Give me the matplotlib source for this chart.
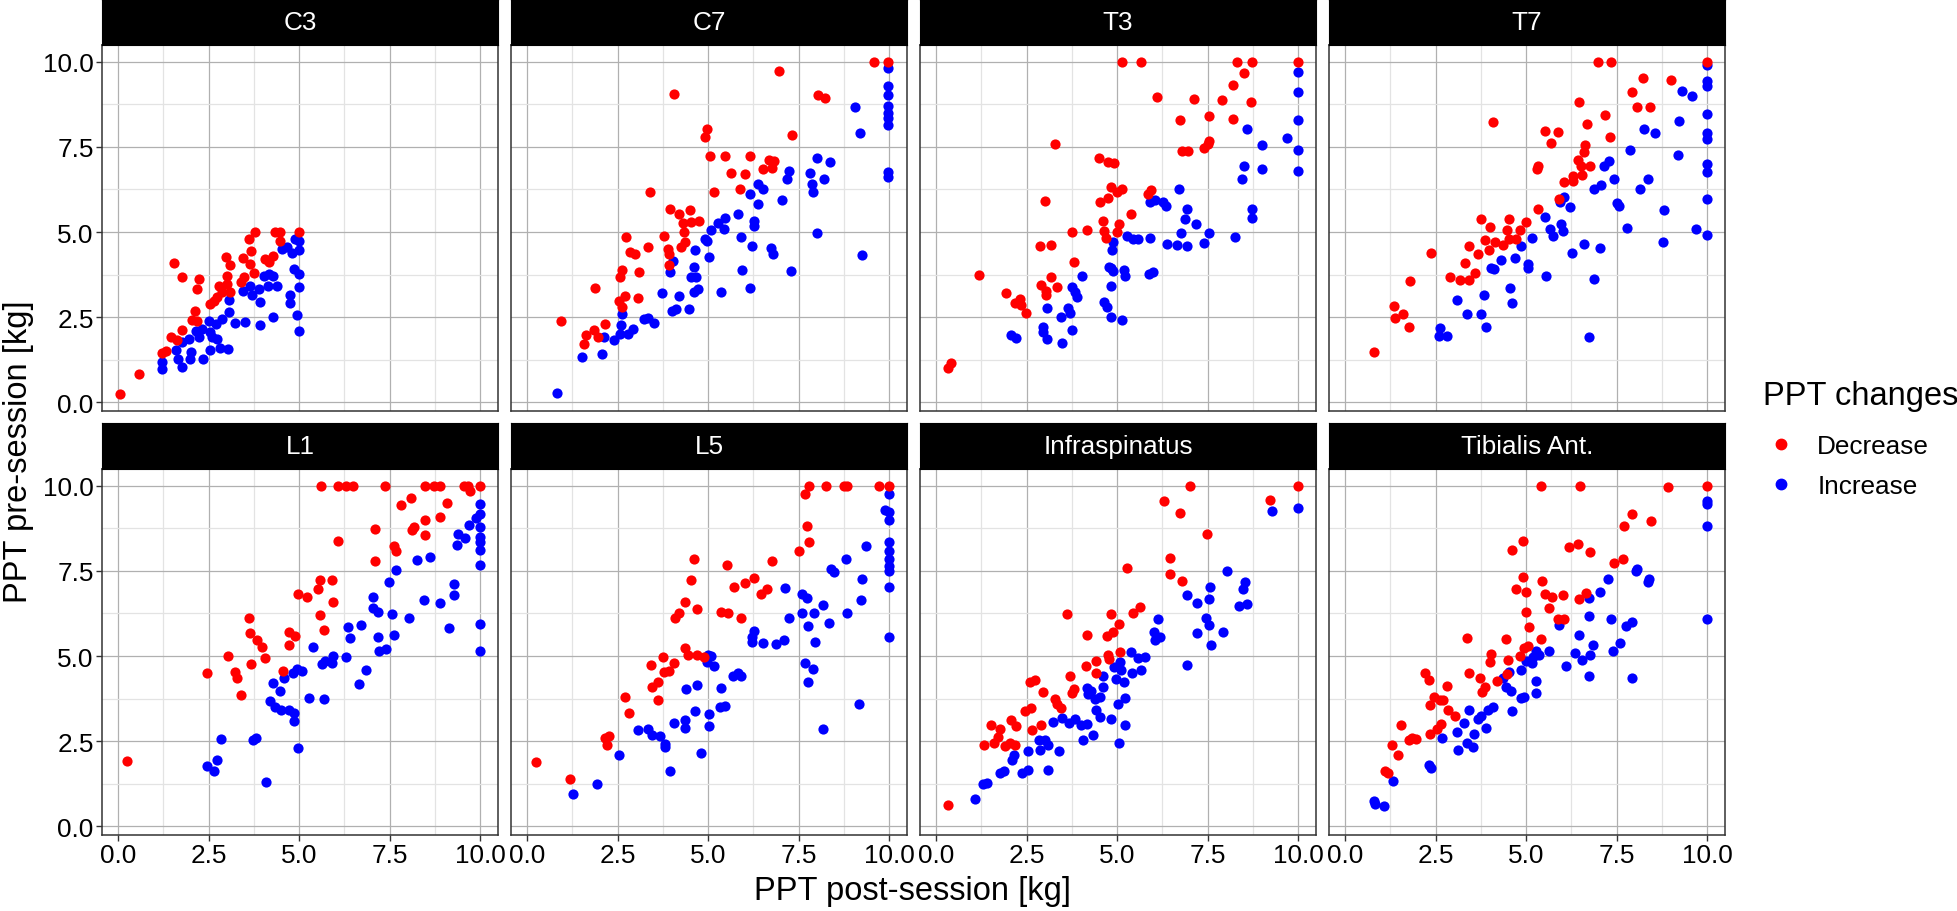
import matplotlib
matplotlib.use("Agg")
import matplotlib.pyplot as plt
from matplotlib.lines import Line2D

plt.rcParams['font.family'] = ['Liberation Sans', 'DejaVu Sans']

# (post-session, pre-session) pairs in kg
c3_dec = [(0.05, 0.25), (0.58, 0.83), (1.2, 1.46), (1.31, 1.5), (1.45, 1.92), (1.54, 4.09),
          (1.75, 3.69), (1.75, 2.14), (1.63, 1.82), (2.23, 3.62), (2.17, 3.33), (2.11, 2.68),
          (2.05, 2.43), (2.18, 2.4), (2.55, 2.89), (2.64, 2.99), (2.78, 3.41), (2.73, 3.09),
          (2.98, 4.27), (3.08, 4.04), (3.01, 3.72), (3.01, 3.48), (3.08, 3.23), (2.87, 3.23),
          (3.61, 4.81), (3.77, 5.0), (3.67, 4.45), (3.45, 4.23), (3.65, 4.06), (3.74, 3.79),
          (3.49, 3.67), (3.39, 3.54), (4.32, 5.0), (4.48, 5.0), (4.48, 4.74), (5.0, 5.0),
          (4.06, 4.21), (4.28, 4.3), (4.16, 4.11)]
c3_inc = [(1.2, 1.19), (1.2, 0.99), (1.75, 1.04), (1.59, 1.53), (1.66, 1.29), (1.75, 1.77),
          (1.95, 1.87), (2.0, 1.48), (1.98, 1.29), (2.34, 1.27), (2.14, 2.11), (2.23, 1.92),
          (2.32, 2.16), (2.5, 2.4), (2.53, 1.55), (2.55, 2.06), (2.6, 1.92), (2.73, 1.87),
          (2.8, 1.61), (3.03, 1.58), (2.69, 2.3), (2.87, 2.45), (3.05, 2.65), (3.05, 3.02),
          (3.22, 2.34), (3.51, 2.36), (3.93, 2.28), (4.28, 2.52), (3.93, 2.94), (3.45, 3.26),
          (3.7, 3.16), (3.65, 3.41), (3.88, 3.33), (4.14, 3.41), (4.39, 3.43), (4.02, 3.72),
          (4.29, 3.72), (4.16, 3.77), (4.52, 4.5), (4.66, 4.55), (4.8, 4.38), (5.0, 4.48),
          (4.89, 4.79), (5.0, 4.74), (4.87, 3.93), (5.0, 3.77), (5.0, 3.38), (4.74, 3.14),
          (4.75, 2.91), (4.94, 2.57), (5.0, 2.11)]

c7_dec = [(0.92, 2.38), (1.56, 1.72), (1.63, 1.99), (1.85, 2.13), (1.95, 1.92), (2.14, 2.31),
          (1.88, 3.35), (2.55, 2.99), (2.61, 2.79), (2.69, 3.11), (2.57, 3.69), (2.63, 3.89),
          (3.06, 3.07), (3.09, 3.82), (2.73, 4.86), (2.84, 4.42), (2.98, 4.37), (3.33, 4.57),
          (3.39, 6.17), (3.79, 4.89), (3.9, 4.5), (3.92, 4.35), (3.92, 4.03), (3.94, 5.67),
          (4.2, 5.52), (4.31, 5.26), (4.33, 5.01), (4.36, 4.71), (4.25, 4.55), (4.51, 5.65),
          (4.54, 5.3), (4.75, 5.33), (4.06, 9.05), (4.97, 8.02), (4.91, 7.78), (5.05, 7.22),
          (5.46, 7.24), (5.15, 6.17), (5.64, 6.72), (6.01, 6.69), (6.17, 7.22), (5.87, 6.25),
          (6.51, 6.86), (6.68, 7.13), (6.83, 7.1), (6.77, 6.88), (6.97, 9.73), (7.32, 7.86),
          (8.05, 9.03), (8.23, 8.93), (9.59, 10.0), (9.98, 10.0)]
c7_inc = [(0.81, 0.29), (1.5, 1.33), (2.06, 1.41), (2.11, 1.92), (2.4, 1.82), (2.57, 2.02),
          (2.59, 2.26), (2.63, 2.6), (2.78, 2.02), (2.92, 2.16), (3.24, 2.45), (3.35, 2.47),
          (3.5, 2.33), (3.73, 3.2), (3.99, 2.67), (4.1, 2.73), (4.19, 3.11), (3.96, 3.82),
          (4.04, 4.16), (4.47, 2.75), (4.54, 3.69), (4.66, 3.69), (4.61, 3.98), (4.61, 3.23),
          (4.71, 3.33), (4.63, 4.47), (4.91, 4.81), (4.98, 4.74), (5.02, 4.26), (5.09, 5.05),
          (5.28, 5.28), (5.44, 5.08), (5.46, 5.4), (5.35, 3.25), (5.83, 5.54), (5.92, 4.86),
          (5.94, 3.89), (6.17, 3.36), (6.22, 4.6), (6.27, 5.18), (6.28, 5.33), (6.17, 6.13),
          (6.38, 5.83), (6.39, 6.4), (6.53, 6.25), (6.74, 4.52), (6.79, 4.35), (7.05, 5.94),
          (7.18, 6.57), (7.23, 6.79), (7.29, 3.85), (7.83, 6.74), (7.86, 6.42), (7.91, 6.17),
          (8.01, 7.16), (8.21, 6.57), (8.36, 7.06), (8.01, 4.97), (9.06, 8.66), (9.19, 7.91),
          (9.25, 4.32), (9.98, 9.82), (9.98, 9.29), (9.98, 9.03), (9.98, 8.7), (9.98, 8.49),
          (9.98, 8.34), (9.98, 8.15), (9.98, 6.77), (9.98, 6.62)]

t3_dec = [(0.33, 1.01), (0.42, 1.17), (1.19, 3.75), (1.93, 3.21), (2.17, 2.92), (2.31, 3.04),
          (2.35, 2.86), (2.49, 2.62), (2.87, 4.6), (3.17, 4.62), (3.01, 5.91), (2.9, 3.46),
          (3.04, 3.28), (3.04, 3.14), (3.17, 3.67), (3.35, 3.38), (3.28, 7.59), (3.74, 4.99),
          (3.81, 4.11), (4.17, 5.05), (4.5, 7.16), (4.75, 7.06), (4.91, 7.03), (4.52, 5.88),
          (4.75, 6.01), (4.83, 6.33), (5.0, 6.18), (5.14, 6.25), (4.61, 5.33), (4.64, 5.03),
          (4.69, 4.84), (5.05, 5.23), (5.0, 5.01), (5.39, 5.54), (5.14, 10.0), (5.65, 10.0),
          (5.85, 6.11), (5.93, 6.23), (6.11, 8.95), (6.75, 8.3), (6.8, 7.37), (6.95, 7.37),
          (7.12, 8.91), (7.41, 7.47), (7.5, 7.59), (7.55, 7.66), (7.55, 8.41), (7.89, 8.88),
          (8.21, 8.33), (8.21, 9.32), (8.31, 10.0), (8.51, 9.66), (8.7, 8.81), (8.74, 10.0),
          (10.0, 10.0)]
t3_inc = [(2.07, 1.99), (2.21, 1.9), (2.94, 2.21), (2.94, 2.06), (3.07, 1.87), (3.07, 2.77),
          (3.44, 2.52), (3.48, 1.75), (3.65, 2.77), (3.7, 2.62), (3.74, 2.13), (3.76, 3.38),
          (3.83, 3.23), (3.88, 3.09), (4.02, 3.7), (4.64, 2.96), (4.71, 2.79), (4.83, 2.52),
          (4.82, 3.43), (4.77, 3.98), (4.89, 3.87), (4.84, 3.96), (4.86, 4.47), (4.89, 4.71),
          (5.14, 2.43), (5.18, 3.89), (5.21, 3.7), (5.28, 4.89), (5.44, 4.79), (5.58, 4.79),
          (5.87, 3.77), (5.99, 3.82), (5.92, 4.82), (5.92, 5.88), (6.06, 5.93), (6.27, 5.88),
          (6.34, 5.76), (6.38, 4.64), (6.65, 4.63), (6.93, 4.58), (6.72, 6.25), (6.93, 5.69),
          (6.89, 5.39), (7.18, 5.25), (6.77, 4.96), (7.39, 4.67), (7.55, 4.96), (8.26, 4.87),
          (8.44, 6.57), (8.51, 6.93), (8.58, 8.02), (8.72, 5.69), (8.74, 5.42), (9.0, 7.55),
          (9.0, 6.84), (9.69, 7.76), (10.0, 9.71), (10.0, 9.1), (10.0, 8.3), (10.0, 7.42),
          (10.0, 6.79)]

t7_dec = [(0.79, 1.48), (1.36, 2.84), (1.38, 2.47), (1.61, 2.6), (1.75, 2.21), (1.8, 3.57),
          (2.38, 4.38), (2.9, 3.69), (3.16, 3.59), (3.3, 4.08), (3.42, 3.6), (3.59, 3.79),
          (3.42, 4.6), (3.66, 4.35), (3.74, 5.37), (3.85, 4.77), (3.99, 5.16), (3.97, 4.48),
          (4.13, 4.71), (4.08, 8.22), (4.35, 4.62), (4.47, 5.05), (4.52, 5.39), (4.54, 4.79),
          (4.72, 4.81), (4.82, 5.06), (5.0, 5.31), (5.29, 6.85), (5.32, 6.95), (5.32, 5.69),
          (5.52, 7.96), (5.69, 7.61), (5.89, 7.94), (5.92, 5.98), (6.06, 6.48), (6.29, 6.64),
          (6.31, 6.51), (6.43, 7.11), (6.54, 6.67), (6.52, 6.95), (6.59, 7.35), (6.64, 7.57),
          (6.77, 6.95), (6.47, 8.81), (6.69, 8.17), (6.98, 10.0), (7.19, 8.44), (7.32, 7.79),
          (7.35, 10.0), (7.92, 9.12), (8.07, 8.66), (8.22, 9.53), (8.43, 8.66), (9.01, 9.46),
          (10.0, 10.0)]
t7_inc = [(2.62, 2.18), (2.6, 1.95), (2.82, 1.95), (3.09, 3.02), (3.36, 2.6), (3.76, 2.6),
          (3.83, 3.14), (3.88, 2.21), (4.03, 3.96), (4.11, 3.91), (4.31, 4.19), (4.56, 3.35),
          (4.61, 2.92), (4.7, 4.24), (4.86, 4.58), (5.05, 4.06), (5.05, 3.96), (5.17, 4.82),
          (5.51, 5.45), (5.54, 3.7), (5.65, 5.1), (5.74, 4.89), (5.95, 5.88), (5.97, 5.25),
          (6.03, 5.03), (6.06, 6.04), (6.22, 5.74), (6.27, 4.38), (6.61, 4.66), (6.73, 1.92),
          (6.87, 3.62), (6.87, 6.25), (7.03, 4.52), (7.07, 6.38), (7.15, 6.95), (7.28, 7.1),
          (7.42, 6.57), (7.51, 5.86), (7.58, 5.76), (7.78, 5.11), (7.88, 7.4), (8.16, 6.27),
          (8.27, 8.02), (8.38, 6.56), (8.56, 7.91), (8.79, 4.72), (8.82, 5.64), (9.19, 7.25),
          (9.24, 8.25), (9.31, 9.14), (9.6, 9.0), (9.7, 5.1), (10.0, 9.9), (10.0, 9.44),
          (10.0, 9.29), (10.0, 8.46), (10.0, 7.91), (10.0, 7.73), (10.0, 7.0), (10.0, 6.76),
          (10.0, 5.96), (10.0, 4.92)]

l1_dec = [(0.24, 1.92), (2.44, 4.49), (3.03, 5.01), (3.24, 4.54), (3.27, 4.35), (3.38, 3.86),
          (3.61, 6.13), (3.63, 5.67), (3.68, 4.77), (3.83, 5.47), (3.97, 5.27), (4.06, 4.93),
          (4.55, 4.57), (4.71, 5.32), (4.72, 5.72), (4.89, 5.59), (4.98, 6.81), (5.23, 6.74),
          (5.51, 6.96), (5.58, 7.22), (5.58, 6.2), (5.7, 5.76), (5.92, 7.23), (5.93, 6.59),
          (5.61, 10.0), (6.08, 10.0), (6.31, 10.0), (6.5, 10.0), (6.08, 8.39), (7.11, 8.73),
          (7.11, 7.78), (7.37, 10.0), (7.62, 8.24), (7.69, 8.09), (7.81, 9.44), (8.1, 9.65),
          (8.13, 8.71), (8.17, 8.8), (8.47, 10.0), (8.49, 9.0), (8.47, 8.54), (8.74, 10.0),
          (8.9, 10.0), (8.91, 9.07), (9.08, 9.5), (9.55, 10.0), (9.68, 10.0), (9.72, 9.84),
          (10.0, 10.0)]
l1_inc = [(2.44, 1.77), (2.64, 1.62), (2.72, 1.95), (2.83, 2.56), (3.72, 2.53), (3.82, 2.6),
          (4.09, 1.31), (4.2, 3.68), (4.34, 3.5), (4.5, 3.42), (4.71, 3.42), (4.87, 3.33),
          (4.86, 3.09), (4.96, 2.29), (4.28, 4.2), (4.46, 3.97), (4.57, 4.35), (4.82, 4.49),
          (4.94, 4.62), (5.07, 4.57), (5.28, 3.76), (5.39, 5.28), (5.62, 4.77), (5.72, 4.86),
          (5.7, 3.73), (5.92, 4.79), (5.95, 4.99), (6.31, 4.96), (6.36, 5.84), (6.42, 5.52),
          (6.66, 4.18), (6.72, 5.9), (6.84, 4.59), (7.03, 6.74), (7.05, 6.42), (7.18, 6.29),
          (7.18, 5.56), (7.21, 5.14), (7.41, 5.22), (7.49, 7.18), (7.58, 6.23), (7.62, 5.62),
          (7.69, 7.52), (8.04, 6.11), (8.27, 7.83), (8.45, 6.66), (8.61, 7.9), (8.91, 6.57),
          (9.14, 5.81), (9.28, 6.78), (9.29, 7.13), (9.37, 8.27), (9.4, 8.58), (9.6, 8.46),
          (9.71, 8.85), (9.89, 9.05), (10.0, 9.46), (10.0, 9.17), (10.0, 8.78), (10.0, 8.48),
          (10.0, 8.34), (10.0, 8.12), (10.0, 7.68), (10.0, 5.95), (10.0, 5.14)]

l5_dec = [(0.25, 1.9), (1.17, 1.39), (2.14, 2.61), (2.25, 2.65), (2.2, 2.38), (2.71, 3.81),
          (2.8, 3.33), (3.42, 4.75), (3.46, 4.09), (3.62, 4.23), (3.62, 3.7), (3.74, 4.98),
          (3.78, 4.52), (3.92, 4.57), (4.06, 4.8), (4.08, 6.13), (4.19, 6.25), (4.36, 6.59),
          (4.36, 5.23), (4.45, 5.03), (4.54, 7.22), (4.61, 7.86), (4.7, 6.39), (4.7, 5.03),
          (4.89, 4.98), (5.37, 6.3), (5.55, 6.25), (5.53, 7.67), (5.73, 7.03), (5.92, 6.13),
          (6.01, 7.15), (6.28, 7.3), (6.47, 6.81), (6.63, 6.97), (6.76, 7.78), (7.52, 8.07),
          (7.68, 9.75), (7.73, 8.83), (7.78, 8.34), (7.79, 10.0), (8.26, 10.0), (8.76, 10.0),
          (8.83, 10.0), (9.72, 10.0), (10.0, 10.0)]
l5_inc = [(1.26, 0.94), (1.93, 1.24), (2.55, 2.11), (3.05, 2.84), (3.35, 2.87), (3.44, 2.68),
          (3.67, 2.65), (3.82, 2.43), (3.81, 2.33), (3.94, 1.63), (4.06, 3.04), (4.36, 3.13),
          (4.36, 2.9), (4.4, 4.04), (4.63, 3.4), (4.7, 4.16), (4.8, 2.16), (5.03, 3.31),
          (5.03, 2.95), (5.0, 5.04), (5.09, 5.01), (4.97, 4.82), (5.17, 4.72), (5.32, 3.5),
          (5.46, 3.55), (5.37, 4.07), (5.69, 4.43), (5.83, 4.49), (5.9, 4.41), (6.21, 5.56),
          (6.27, 5.74), (6.22, 5.4), (6.51, 5.38), (6.88, 5.35), (7.09, 5.47), (7.14, 7.0),
          (7.23, 6.11), (7.61, 6.83), (7.61, 6.27), (7.73, 6.71), (7.75, 5.89), (7.69, 4.79),
          (7.89, 4.62), (7.75, 4.23), (7.92, 6.25), (7.95, 5.4), (8.17, 2.87), (8.19, 6.49),
          (8.35, 5.98), (8.39, 7.57), (8.49, 7.46), (8.81, 7.85), (8.83, 6.27), (9.17, 3.6),
          (9.24, 6.64), (9.25, 7.27), (9.36, 8.24), (9.89, 9.29), (10.0, 9.75), (10.0, 9.24),
          (10.0, 9.0), (10.0, 8.34), (10.0, 8.09), (10.0, 7.86), (10.0, 7.64), (10.0, 7.49),
          (10.0, 7.03), (10.0, 5.56)]

inf_dec = [(0.33, 0.63), (1.33, 2.38), (1.52, 2.97), (1.6, 2.46), (1.71, 2.63), (1.77, 2.85),
           (1.89, 2.36), (2.03, 2.46), (2.06, 3.11), (2.18, 2.4), (2.2, 2.94), (2.46, 3.4),
           (2.62, 3.47), (2.58, 4.25), (2.72, 4.31), (2.64, 2.82), (2.89, 2.97), (2.94, 3.94),
           (3.27, 3.75), (3.33, 3.6), (3.44, 3.48), (3.7, 4.41), (3.74, 3.92), (3.82, 4.04),
           (3.61, 6.23), (4.13, 4.72), (4.17, 5.62), (4.43, 4.86), (4.43, 4.5), (4.71, 5.59),
           (4.75, 5.04), (4.77, 4.91), (4.84, 6.23), (4.89, 5.71), (5.06, 5.95), (5.07, 5.11),
           (5.28, 7.59), (5.44, 6.25), (5.62, 6.45), (6.31, 9.55), (6.45, 7.88), (6.45, 7.42),
           (6.75, 9.21), (6.8, 7.2), (7.02, 10.0), (7.49, 8.59), (9.22, 9.58), (10.0, 10.0)]
inf_inc = [(1.06, 0.8), (1.29, 1.26), (1.4, 1.28), (1.77, 1.56), (1.88, 1.62), (2.09, 1.95),
           (2.16, 2.09), (2.37, 1.58), (2.55, 1.65), (2.55, 2.21), (2.83, 2.55), (2.87, 2.24),
           (3.01, 2.53), (3.08, 2.38), (3.08, 1.67), (3.38, 2.21), (3.22, 3.08), (3.47, 3.19),
           (3.68, 3.04), (3.83, 3.16), (4.0, 2.99), (4.18, 3.02), (4.06, 2.55), (4.34, 2.68),
           (4.16, 4.07), (4.2, 3.89), (4.29, 3.99), (4.39, 3.75), (4.43, 3.43), (4.52, 3.21),
           (4.54, 3.8), (4.61, 4.09), (4.61, 4.43), (4.84, 3.16), (4.91, 4.67), (4.96, 4.33),
           (5.03, 3.6), (5.05, 2.46), (5.07, 4.82), (5.12, 4.6), (5.19, 4.25), (5.21, 3.76),
           (5.21, 2.97), (5.39, 5.11), (5.41, 4.5), (5.58, 4.94), (5.67, 4.59), (5.76, 4.96),
           (6.02, 5.71), (6.04, 5.47), (6.13, 6.1), (6.2, 5.56), (6.94, 6.78), (6.94, 4.74),
           (7.21, 6.57), (7.21, 5.67), (7.46, 6.13), (7.53, 6.68), (7.53, 5.9), (7.57, 7.02),
           (7.6, 5.32), (7.92, 5.72), (8.04, 7.49), (8.36, 6.47), (8.47, 6.96), (8.53, 7.17),
           (8.59, 6.54), (9.28, 9.27), (10.0, 9.34)]

tib_dec = [(1.1, 1.63), (1.19, 1.58), (1.3, 2.38), (1.45, 2.11), (1.54, 2.97), (1.76, 2.55),
           (1.85, 2.6), (1.96, 2.58), (2.21, 4.49), (2.32, 4.3), (2.33, 3.57), (2.35, 2.72),
           (2.46, 3.81), (2.55, 2.87), (2.62, 3.7), (2.64, 3.02), (2.71, 3.72), (2.82, 4.13),
           (2.85, 3.43), (3.03, 3.23), (3.37, 5.53), (3.42, 4.5), (3.72, 4.35), (3.77, 3.94),
           (3.86, 4.1), (4.0, 4.84), (4.03, 5.06), (4.2, 4.28), (4.44, 5.5), (4.46, 4.46),
           (4.5, 4.88), (4.62, 8.12), (4.71, 6.98), (4.83, 4.99), (4.92, 8.37), (4.92, 7.32),
           (4.99, 6.88), (5.01, 6.29), (4.94, 5.25), (5.07, 5.84), (5.06, 5.3), (5.4, 10.0),
           (5.4, 5.5), (5.45, 7.2), (5.51, 6.81), (5.63, 6.4), (5.73, 6.74), (5.88, 6.1),
           (6.02, 6.79), (6.04, 6.1), (6.19, 8.19), (6.43, 8.3), (6.45, 6.68), (6.49, 10.0),
           (6.65, 6.86), (6.76, 8.05), (7.42, 7.73), (7.69, 7.86), (7.72, 8.83), (7.92, 9.16),
           (8.46, 8.95), (8.92, 9.97), (10.0, 10.0)]
tib_inc = [(0.8, 0.76), (0.83, 0.65), (1.08, 0.61), (1.33, 1.33), (2.32, 1.8), (2.37, 1.72),
           (2.68, 2.6), (3.08, 2.77), (3.13, 2.24), (3.29, 3.04), (3.37, 2.46), (3.42, 3.42),
           (3.52, 2.33), (3.55, 2.7), (3.66, 3.16), (3.75, 3.24), (3.9, 2.89), (3.95, 3.43),
           (4.09, 3.5), (4.37, 4.35), (4.44, 4.1), (4.53, 4.52), (4.57, 3.97), (4.62, 3.4),
           (4.85, 4.59), (4.87, 3.77), (4.94, 3.79), (5.01, 4.86), (5.15, 4.79), (5.19, 4.96),
           (5.28, 5.14), (5.37, 5.04), (5.27, 4.26), (5.27, 3.91), (5.63, 5.14), (5.91, 5.9),
           (6.1, 4.7), (6.34, 5.09), (6.45, 5.62), (6.55, 4.88), (6.74, 6.71), (6.74, 6.18),
           (6.73, 4.41), (6.77, 5.03), (6.86, 5.33), (7.03, 6.89), (7.26, 7.25), (7.35, 6.08),
           (7.4, 5.14), (7.6, 5.37), (7.75, 5.87), (7.93, 6.0), (7.92, 4.36), (8.04, 7.49),
           (8.06, 7.57), (8.36, 7.17), (8.41, 7.25), (10.0, 9.55), (10.0, 9.46), (10.0, 8.82),
           (10.0, 6.08)]

panel_names = ['C3', 'C7', 'T3', 'T7', 'L1', 'L5', 'Infraspinatus', 'Tibialis Ant.']
decrease = [c3_dec, c7_dec, t3_dec, t7_dec, l1_dec, l5_dec, inf_dec, tib_dec]
increase = [c3_inc, c7_inc, t3_inc, t7_inc, l1_inc, l5_inc, inf_inc, tib_inc]
ticks = [0.0, 2.5, 5.0, 7.5, 10.0]
minor_ticks = [1.25, 3.75, 6.25, 8.75]

RED = '#ff0000'
BLUE = '#0000ff'
W, H = 1958, 912
SMALL = 18.8   # axis text, strip text, legend labels
BIG = 23.5     # axis titles, legend title

fig = plt.figure(figsize=(W / 100, H / 100), dpi=100)


def box(x0, y0, x1, y1):
    return [x0 / W, 1 - y1 / H, (x1 - x0) / W, (y1 - y0) / H]


col_x = [102, 511, 920, 1329]
pw = 396
rows = [(1, 46, 412), (424, 470, 836)]  # strip top, panel top, panel bottom

for i, name in enumerate(panel_names):
    r, c = divmod(i, 4)
    st, pt, pb = rows[r]
    x0 = col_x[c]
    ax = fig.add_axes(box(x0, pt, x0 + pw, pb))
    sax = fig.add_axes(box(x0, st, x0 + pw, pt))
    sax.set_facecolor('black')
    sax.set_xticks([])
    sax.set_yticks([])
    for s in sax.spines.values():
        s.set_color('black')
    sax.text(0.5, 0.5, name, color='white', fontsize=SMALL, ha='center', va='center',
             transform=sax.transAxes)

    inc = increase[i]
    dec = decrease[i]
    ax.scatter([p[0] for p in inc], [p[1] for p in inc], s=54, color=BLUE,
               linewidths=0, zorder=3)
    ax.scatter([p[0] for p in dec], [p[1] for p in dec], s=54, color=RED,
               linewidths=0, zorder=3)

    ax.set_xlim(-0.45, 10.5)
    ax.set_ylim(-0.25, 10.49)
    ax.set_xticks(ticks)
    ax.set_yticks(ticks)
    ax.set_xticks(minor_ticks, minor=True)
    ax.set_yticks(minor_ticks, minor=True)
    ax.grid(which='major', color='#b0b0b0', linewidth=0.9, zorder=0)
    ax.grid(which='minor', color='#e3e3e3', linewidth=0.9, zorder=0)
    ax.set_axisbelow(True)
    for s in ax.spines.values():
        s.set_color('#333333')
        s.set_linewidth(1.1)
    ax.tick_params(which='minor', length=0)
    ax.tick_params(which='major', length=4, width=1, color='#333333',
                   labelsize=SMALL, pad=2, labelcolor='black')
    ax.set_xticklabels([f'{t:.1f}' for t in ticks])
    ax.set_yticklabels([f'{t:.1f}' for t in ticks])
    if r == 0:
        ax.tick_params(axis='x', length=0, labelbottom=False)
    if c != 0:
        ax.tick_params(axis='y', length=0, labelleft=False)

fig.text(913 / W, 1 - 892 / H, 'PPT post-session [kg]', fontsize=BIG,
         ha='center', va='center')
fig.text(19 / W, 1 - 452 / H, 'PPT pre-session [kg]', fontsize=BIG,
         ha='center', va='center', rotation=90)

# legend: title placed on its own, entries below it
fig.text(1763 / W, 1 - 397 / H, 'PPT changes', fontsize=BIG, ha='left', va='center')
handles = [Line2D([], [], marker='o', linestyle='none', color=RED, markersize=7.5),
           Line2D([], [], marker='o', linestyle='none', color=BLUE, markersize=7.5)]
fig.legend(handles, ['Decrease', 'Increase'], loc='upper left',
           bbox_to_anchor=(1765 / W, 1 - 435 / H), frameon=False, fontsize=SMALL,
           handlelength=1.2, handletextpad=0.8, labelspacing=0.62,
           borderpad=0, borderaxespad=0)

fig.savefig('out.png', dpi=100)
